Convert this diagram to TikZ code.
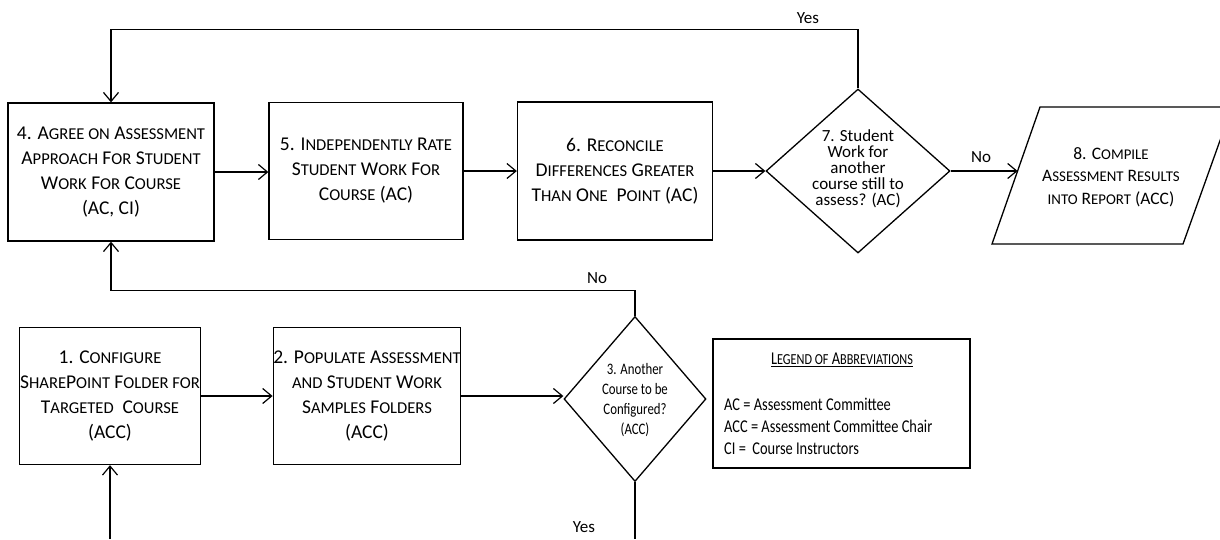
\documentclass[tikz,border=0pt]{standalone}
\usepackage{fontspec}
\setmainfont{Carlito}
\newfontfamily\cond{Carlito}[FakeStretch=0.8]
\usetikzlibrary{shapes.geometric,arrows.meta}
\makeatletter
\newcommand{\smc}[1]{{\fontsize{\strip@pt\dimexpr0.85\dimexpr\f@size pt\relax\relax}{\f@baselineskip}\selectfont\MakeUppercase{#1}}}
\makeatother
\begin{document}
\begin{tikzpicture}[x=1pt,y=-1pt,
  box/.style={draw,line width=1.3pt,align=center,inner sep=0pt,font=\fontsize{19.5}{25}\selectfont},
  dec/.style={draw,diamond,line width=1.3pt,inner sep=0pt},
  dtextA/.style={align=center,font=\fontsize{17}{16}\selectfont},
  dtextB/.style={align=center,font=\cond\fontsize{16}{20}\selectfont},
  arr/.style={line width=1.2pt,-{Straight Barb[length=9pt,width=15pt,line width=1.2pt]}},
  ln/.style={line width=1.2pt},
  lbl/.style={font=\fontsize{17}{18}\selectfont}]
\useasboundingbox (0,0) rectangle (1220,539);
% top row
\node[box,minimum width=206pt,minimum height=138pt] (b4) at (111,172) {4. A\smc{gree on} A\smc{ssessment}\\A\smc{pproach} F\smc{or} S\smc{tudent}\\W\smc{ork} F\smc{or} C\smc{ourse}\\(AC, CI)};
\node[box,minimum width=194pt,minimum height=137pt] (b5) at (366,171) {5. I\smc{ndependently} R\smc{ate}\\S\smc{tudent} W\smc{ork} F\smc{or}\\C\smc{ourse} (AC)};
\node[box,minimum width=195pt,minimum height=138pt] (b6) at (615,171) {6. R\smc{econcile}\\D\smc{ifferences} G\smc{reater}\\T\smc{han} O\smc{ne}\ \ P\smc{oint} (AC)};
\node[dec,minimum width=184pt,minimum height=164pt] (d7) at (858,171) {};
\node[dtextA] (t7) at (858,169) {7. Student\\Work for\\another\\course still to\\assess? (AC)};
\draw[line width=1.3pt] (1040,107) -- (1232,107) -- (1183,244) -- (992,244) -- cycle;
\coordinate (p8in) at (1017.6,171);
\node[align=center,font=\fontsize{17.5}{22.5}\selectfont] (t8) at (1111,177) {8. C\smc{ompile}\\A\smc{ssessment} R\smc{esults}\\\smc{into} R\smc{eport} (ACC)};
% bottom row
\node[box,minimum width=181pt,minimum height=137pt] (b1) at (110,396) {1. C\smc{onfigure}\\S\smc{hare}P\smc{oint} F\smc{older for}\\T\smc{argeted}\ \ C\smc{ourse}\\(ACC)};
\node[box,minimum width=182pt,minimum height=137pt] (b2) at (367,396) {2. P\smc{opulate} A\smc{ssessment}\\\smc{and} S\smc{tudent} W\smc{ork}\\S\smc{amples} F\smc{olders}\\(ACC)};
\node[dec,minimum width=142pt,minimum height=165pt] (d3) at (635,399) {};
\node[dtextB] (t3) at (635,400) {3. Another\\Course to be\\Configured?\\(ACC)};
% legend
\node[draw,line width=1.3pt,minimum width=257pt,minimum height=129pt] (leg) at (841.5,403.5) {};
\node[font=\cond\fontsize{18}{18}\selectfont] (legt) at (842,360) {\underline{L\smc{egend of} A\smc{bbreviations}}};
\node[anchor=west,align=left,inner sep=0pt,font=\cond\fontsize{18}{22}\selectfont] (legb) at (724,426) {AC = Assessment Committee\\ACC = Assessment Committee Chair\\CI =\ \ Course Instructors};
% connectors
\draw[arr] (b4.east) -- (b4.east -| b5.west);
\draw[arr] (b5.east) -- (b6.west);
\draw[arr] (b6.east) -- (d7.west);
\draw[arr] (d7.east) -- (p8in);
\draw[arr] (d7.north) -- ++(0,-59) -| (b4.north);
\draw[arr] (d3.north) -- ++(0,-25) -| (b4.south);
\draw[arr] (b1.east) -- (b2.west);
\draw[arr] (b2.east) -- (b2.east -| d3.west);
\coordinate (bot1) at (110,539);
\coordinate (bot3) at (635,539);
\draw[arr] (bot1) -- (b1.south);
\draw[ln] (d3.south) -- (bot3);
% labels
\node[lbl] (lyes1) at (808,18) {Yes};
\node[lbl] (lno1) at (981,157) {No};
\node[lbl] (lno2) at (597,278) {No};
\node[lbl] (lyes2) at (584,527) {Yes};
\end{tikzpicture}
\end{document}
